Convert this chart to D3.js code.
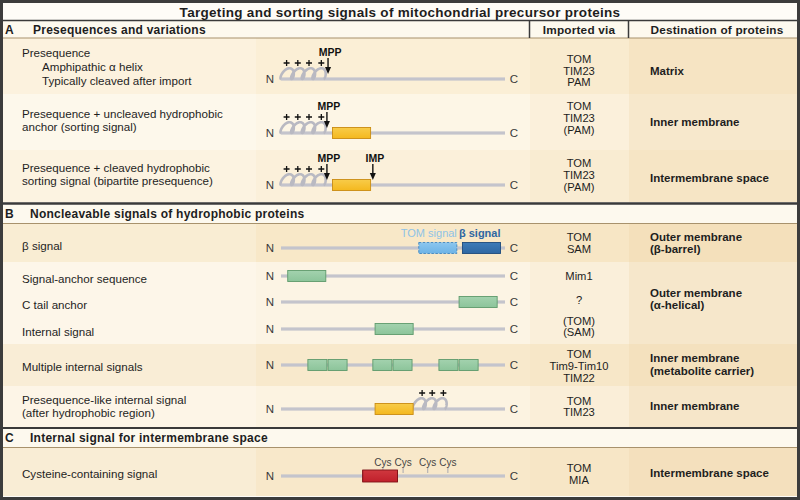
<!DOCTYPE html>
<html><head><meta charset="utf-8">
<script src="https://cdn.jsdelivr.net/npm/d3@7"></script>
<style>body{margin:0;background:#fff}svg{display:block;font-family:"Liberation Sans",Arial,sans-serif}</style>
</head><body><svg id="c" width="800" height="500"></svg>
<script>
// ---------- DATA ----------
const title = "Targeting and sorting signals of mitochondrial precursor proteins";
const columnHeaders = ["Imported via", "Destination of proteins"];
const sectionLetters = ["A", "B", "C"];
const sectionTitles = ["Presequences and variations", "Noncleavable signals of hydrophobic proteins", "Internal signal for intermembrane space"];
const rowLabels = [
  ["Presequence", "Amphipathic α helix", "Typically cleaved after import"],
  ["Presequence + uncleaved hydrophobic", "anchor (sorting signal)"],
  ["Presequence + cleaved hydrophobic", "sorting signal (bipartite presequence)"],
  ["β signal"],
  ["Signal-anchor sequence"],
  ["C tail anchor"],
  ["Internal signal"],
  ["Multiple internal signals"],
  ["Presequence-like internal signal", "(after hydrophobic region)"],
  ["Cysteine-containing signal"]
];
const importedVia = [["TOM","TIM23","PAM"],["TOM","TIM23","(PAM)"],["TOM","TIM23","(PAM)"],["TOM","SAM"],["Mim1"],["?"],["(TOM)","(SAM)"],["TOM","Tim9-Tim10","TIM22"],["TOM","TIM23"],["TOM","MIA"]];
const destinationLabels = [["Matrix"],["Inner membrane"],["Intermembrane space"],["Outer membrane","(β-barrel)"],["Outer membrane","(α-helical)"],["Inner membrane","(metabolite carrier)"],["Inner membrane"],["Intermembrane space"]];
const destinationRows = [[0,0],[1,1],[2,2],[3,3],[4,6],[7,7],[8,8],[9,9]];
// protein positions in % of sequence length (N = 0, C = 100)
const helices = [
  {row:0, start:0, end:19, turns:4},
  {row:1, start:0, end:19, turns:4},
  {row:2, start:0, end:19, turns:4},
  {row:8, start:59, end:73, turns:3}
];
const signalBoxes = [
  {row:1, start:23, end:40, kind:"hydrophobic"},
  {row:2, start:23, end:40, kind:"hydrophobic"},
  {row:3, start:61.5, end:78.5, kind:"tom"},
  {row:3, start:81, end:98, kind:"beta"},
  {row:4, start:3, end:20, kind:"alpha"},
  {row:5, start:79.5, end:96.5, kind:"alpha"},
  {row:6, start:42, end:59, kind:"alpha"},
  {row:7, start:12, end:20.5, kind:"alpha"},
  {row:7, start:21, end:29.5, kind:"alpha"},
  {row:7, start:41, end:49.5, kind:"alpha"},
  {row:7, start:50, end:58.5, kind:"alpha"},
  {row:7, start:70.5, end:79, kind:"alpha"},
  {row:7, start:79.5, end:88, kind:"alpha"},
  {row:8, start:42, end:59, kind:"hydrophobic"},
  {row:9, start:36.5, end:52, kind:"cys"}
];
const charges = [
  {row:0, pos:[2.5, 7.5, 12.5, 18]},
  {row:1, pos:[2.5, 7.5, 12.5, 18]},
  {row:2, pos:[2.5, 7.5, 12.5, 18]},
  {row:8, pos:[63, 67.5, 72.5]}
];
const cleavageSites = [
  {row:0, pos:21, label:"MPP"},
  {row:1, pos:20.5, label:"MPP"},
  {row:2, pos:20.5, label:"MPP"},
  {row:2, pos:41, label:"IMP"}
];
const signalNames = [
  {row:3, pos:78.5, label:"TOM signal", kind:"tom"},
  {row:3, pos:98, label:"β signal", kind:"beta"}
];
const cysteines = [{row:9, pos:[45.5, 54.5, 65.5, 74.5]}];

// ---------- LAYOUT ----------
const svg = d3.select("#c");
const W = 800, H = 500;
const colX = [3, 256, 530, 629, 797];
const rowBands = [[38,94],[94,150],[150,202],[224,262],[262,290],[290,316],[316,344],[344,386],[386,427],[448,496]];
const rowLineY = [79,133,185,248,276,302,329,365,409,476];
const labelY = [[52,66,80],[113,126.5],[167,180.5],[245],[278],[304],[331],[366],[399,412.5],[473]];
const importY = [70.5,118,175,243,276,300,326.5,366,406.5,474];
const destY = [71,122,178,243,299,364.5,406,473];
const sectionBands = [[21,38],[205,223],[429,447]];
const rowBase = ["#fbefd6","#fdf6e6","#fbf0da","#f8e8c8","#fcf4e4","#fcf4e4","#fcf4e4","#f8e9cc","#fcf3e1","#f8e8ca"];
const x = d3.scaleLinear().domain([0,100]).range([281,505]);
const palette = {
  hydrophobic:{fill:"#f4b81e", top:"#f8cc4a", stroke:"#c98c12"},
  alpha:{fill:"#8cc49a", top:"#a3d2ae", stroke:"#5e9a6c"},
  tom:{fill:"#6cb3e6", top:"#8cc6ee", stroke:"#3f86c0"},
  beta:{fill:"#2e67a2", top:"#3d7bb8", stroke:"#1d4a7c"},
  cys:{fill:"#c0202b", top:"#d0383f", stroke:"#7e1218"}
};
const defs = svg.append("defs");
Object.entries(palette).forEach(([k,p]) => {
  const g = defs.append("linearGradient").attr("id","g-"+k).attr("x1",0).attr("y1",0).attr("x2",0).attr("y2",1);
  g.append("stop").attr("offset","0%").attr("stop-color",p.top);
  g.append("stop").attr("offset","100%").attr("stop-color",p.fill);
});

// backgrounds
svg.append("rect").attr("width",W).attr("height",H).attr("fill","#fefcf7");
rowBands.forEach((b,i) => {
  const base = rowBase[i];
  const cols = [d3.interpolateRgb(base,"#ffffff")(0.2), base, d3.interpolateRgb(base,"#f3dfbb")(0.25), d3.interpolateRgb(base,"#efd7ac")(0.45)];
  cols.forEach((c,j) => svg.append("rect").attr("x",colX[j]).attr("y",b[0]).attr("width",colX[j+1]-colX[j]).attr("height",b[1]-b[0]).attr("fill",c));
});
sectionBands.forEach(b => svg.append("rect").attr("x",0).attr("y",b[0]).attr("width",W).attr("height",b[1]-b[0]).attr("fill","#fdf9ee"));
// divider lines
const hl = (y, c, w) => svg.append("line").attr("x1",0).attr("x2",W).attr("y1",y).attr("y2",y).attr("stroke",c).attr("stroke-width",w);
hl(20.5,"#3a3a3a",1.5); hl(38,"#a8926c",1.2);
hl(203.5,"#3a3a3a",2.5); hl(223.5,"#a8926c",1.2);
hl(428,"#3a3a3a",2); hl(447.5,"#a8926c",1.2);
[529.5,628.5].forEach(vx => svg.append("line").attr("x1",vx).attr("x2",vx).attr("y1",20).attr("y2",38).attr("stroke","#3a3a3a").attr("stroke-width",1.5));
svg.append("rect").attr("x",1.5).attr("y",1.5).attr("width",W-3).attr("height",H-3).attr("fill","none").attr("stroke","#3c3c3c").attr("stroke-width",3);

// title and headers
const txt = (sel, x0, y0, s, opts={}) => sel.append("text").attr("x",x0).attr("y",y0).attr("dominant-baseline","central")
  .attr("font-size",opts.size||11).attr("font-weight",opts.bold?"bold":"normal").attr("fill",opts.fill||"#1e1e1e")
  .attr("text-anchor",opts.anchor||"start").attr("letter-spacing",opts.ls||0).text(s);
txt(svg, 400, 12, title, {size:13.5, bold:true, anchor:"middle", ls:0.3});
sectionBands.forEach((b,i) => {
  const cy = (b[0]+b[1])/2;
  txt(svg, 5, cy, sectionLetters[i], {size:12, bold:true});
  txt(svg, i===0?33:30, cy, sectionTitles[i], {size:12, bold:true, ls:0.25});
});
txt(svg, 579, 29.5, columnHeaders[0], {size:11.8, bold:true, anchor:"middle", ls:0.2});
txt(svg, 717, 29.5, columnHeaders[1], {size:11.8, bold:true, anchor:"middle", ls:0.2});

// row labels
rowLabels.forEach((lines,i) => lines.forEach((s,k) => {
  const indent = (i===0 && k>0) ? 42 : 22;
  txt(svg, indent, labelY[i][k], s, {size:11.6});
}));
// imported via
importedVia.forEach((lines,i) => {
  const n = lines.length;
  lines.forEach((s,k) => txt(svg, 579, importY[i] + (k-(n-1)/2)*11.6, s, {size:11.2, anchor:"middle"}));
});
// destinations
destinationLabels.forEach((lines,i) => {
  const n = lines.length;
  lines.forEach((s,k) => txt(svg, 650, destY[i] + (k-(n-1)/2)*12.5, s, {size:11.5, bold:true}));
});

// proteins
const prot = svg.append("g");
rowLineY.forEach((y,i) => {
  prot.append("rect").attr("x",x(0)).attr("y",y-1.6).attr("width",x(100)-x(0)).attr("height",3.2).attr("fill","#c4c4cc");
  txt(prot, x(0)-11, y, "N", {size:11.5, anchor:"middle", fill:"#3a3a3a"});
  txt(prot, x(100)+9, y, "C", {size:11.5, anchor:"middle", fill:"#3a3a3a"});
});
// helices
helices.forEach(h => {
  const y = rowLineY[h.row], x0 = x(h.start), x1 = x(h.end);
  const T = 2*Math.PI*h.turns, a = (x1-x0)/T, b = a*1.9, c = 5.4, tilt = 1.6;
  const pts = d3.range(0, T+0.01, 0.1).map(t => [x0 + a*t - b*Math.sin(t) + tilt*(1-Math.cos(t)), y - c*(1-Math.cos(t))]);
  prot.append("path").attr("d", d3.line()(pts)).attr("fill","none").attr("stroke","#b9b9c2").attr("stroke-width",2.6);
});
charges.forEach(cg => cg.pos.forEach(p => {
  const cx = x(p), cy = rowLineY[cg.row]-16;
  prot.append("path").attr("d",`M${cx-3},${cy} H${cx+3} M${cx},${cy-3} V${cy+3}`).attr("stroke","#111").attr("stroke-width",1.3).attr("fill","none");
}));
// boxes
signalBoxes.forEach(bx => {
  const y = rowLineY[bx.row], p = palette[bx.kind];
  prot.append("rect").attr("x",x(bx.start)).attr("y",y-5.5).attr("width",x(bx.end)-x(bx.start)).attr("height",11)
    .attr("fill","url(#g-"+bx.kind+")").attr("stroke",p.stroke).attr("stroke-width",0.9)
    .attr("stroke-dasharray", bx.kind==="tom" ? "2.5,1.5" : null);
});
// cleavage sites
cleavageSites.forEach(cs => {
  const y = rowLineY[cs.row], xx = x(cs.pos);
  prot.append("line").attr("x1",xx).attr("x2",xx).attr("y1",y-21).attr("y2",y-11).attr("stroke","#111").attr("stroke-width",1.4);
  prot.append("path").attr("d",`M${xx-3},${y-12} L${xx+3},${y-12} L${xx},${y-5} Z`).attr("fill","#111");
  txt(prot, xx+2, y-27, cs.label, {size:10.5, bold:true, anchor:"middle", fill:"#111"});
});
// signal names
signalNames.forEach(sn => txt(prot, x(sn.pos), rowLineY[sn.row]-15, sn.label, {size:11, anchor:"end", bold: sn.kind==="beta", fill: sn.kind==="tom" ? "#8fc3e6" : "#2e67a2"}));
// cysteines
cysteines.forEach(cy => cy.pos.forEach(p => {
  const y = rowLineY[cy.row];
  prot.append("line").attr("x1",x(p)).attr("x2",x(p)).attr("y1",y-8).attr("y2",y-3).attr("stroke","#a8a8b0").attr("stroke-width",1);
  txt(prot, x(p), y-14, "Cys", {size:10, anchor:"middle", fill:"#444"});
}));
signalBoxes.filter(b => b.kind==="cys").forEach(bx => {
  const y = rowLineY[bx.row], p = palette[bx.kind];
  prot.append("rect").attr("x",x(bx.start)).attr("y",y-6).attr("width",x(bx.end)-x(bx.start)).attr("height",12)
    .attr("fill","url(#g-cys)").attr("stroke",p.stroke).attr("stroke-width",0.9);
});
</script></body></html>
